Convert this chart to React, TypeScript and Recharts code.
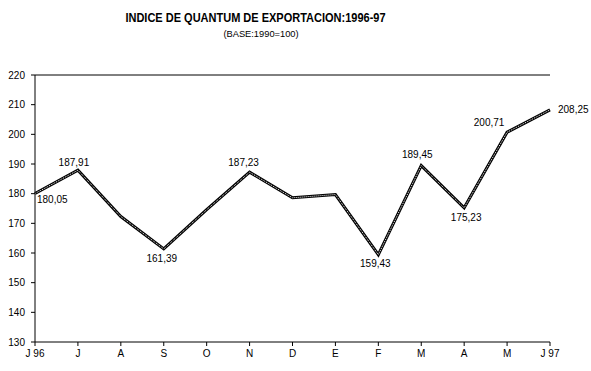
import { LineChart, Line, XAxis, YAxis, ReferenceLine } from 'recharts';

const months = ['J 96', 'J', 'A', 'S', 'O', 'N', 'D', 'E', 'F', 'M', 'A', 'M', 'J 97'];
const quantum = [180.05, 187.91, 172.3, 161.39, 174.6, 187.23, 178.6, 179.7, 159.43, 189.45, 175.23, 200.71, 208.25];
const labelText = ['180,05', '187,91', '', '161,39', '', '187,23', '', '', '159,43', '189,45', '175,23', '200,71', '208,25'];
const yTicks = [130, 140, 150, 160, 170, 180, 190, 200, 210, 220];

const data = months.map((m, i) => ({ month: m, idx: i, value: quantum[i] }));

// where each value label sits relative to its point
const placement: Record<number, { dx: number; dy: number; anchor: 'start' | 'middle' | 'end' }> = {
  0: { dx: 2, dy: 6, anchor: 'start' },
  1: { dx: -4, dy: -8, anchor: 'middle' },
  3: { dx: -2, dy: 10, anchor: 'middle' },
  5: { dx: -6, dy: -10, anchor: 'middle' },
  8: { dx: -3, dy: 9, anchor: 'middle' },
  9: { dx: -4, dy: -11, anchor: 'middle' },
  10: { dx: 2, dy: 10, anchor: 'middle' },
  11: { dx: -18, dy: -10, anchor: 'middle' },
  12: { dx: 8, dy: 0, anchor: 'start' },
};

const font = 'Liberation Sans, Arial, sans-serif';

const ValueLabel = (props: any) => {
  const { x, y, index } = props;
  const text = labelText[index];
  const p = placement[index];
  if (!text || !p) return null;
  return (
    <text
      x={x + p.dx}
      y={y + p.dy}
      textAnchor={p.anchor}
      dominantBaseline="central"
      fontSize={10}
      fontFamily={font}
      fill="#000"
    >
      {text}
    </text>
  );
};

const App = () => {
  return (
    <div style={{ position: 'absolute', left: 0, top: 0, width: 591, height: 371, background: '#fff' }}>
      <div
        style={{
          position: 'absolute',
          left: 0,
          width: 511,
          top: 9,
          textAlign: 'center',
          fontFamily: font,
          fontWeight: 'bold',
          fontSize: 12.5,
          lineHeight: '18px',
          color: '#000',
          transform: 'scaleX(0.88)',
        }}
      >
        INDICE DE QUANTUM DE EXPORTACION:1996-97
      </div>
      <div
        style={{
          position: 'absolute',
          left: 0,
          width: 522,
          top: 28,
          textAlign: 'center',
          fontFamily: font,
          fontSize: 9.3,
          lineHeight: '12px',
          color: '#000',
        }}
      >
        (BASE:1990=100)
      </div>
      <LineChart
        width={591}
        height={371}
        data={data}
        margin={{ top: 75, right: 41, left: 0, bottom: 0 }}
      >
        <XAxis
          dataKey="month"
          interval={0}
          height={29}
          tickSize={4}
          tickMargin={4}
          axisLine={{ stroke: '#000' }}
          tickLine={{ stroke: '#000' }}
          tick={{ fill: '#000', fontSize: 10, fontFamily: font }}
        />
        <YAxis
          domain={[130, 220]}
          ticks={yTicks}
          width={35}
          tickSize={4}
          tickMargin={6}
          axisLine={{ stroke: '#000' }}
          tickLine={{ stroke: '#000' }}
          tick={{ fill: '#000', fontSize: 10, fontFamily: font }}
        />
        <ReferenceLine y={220} stroke="#000" ifOverflow="visible" />
        <ReferenceLine x="J 97" stroke="#000" ifOverflow="visible" />
        <Line
          type="linear"
          dataKey="value"
          stroke="#000"
          strokeWidth={3}
          dot={false}
          isAnimationActive={false}
        />
        <Line
          type="linear"
          dataKey="value"
          stroke="#fff"
          strokeWidth={1}
          strokeDasharray="1 1"
          dot={false}
          isAnimationActive={false}
          label={<ValueLabel />}
        />
      </LineChart>
    </div>
  );
};

export default App;
